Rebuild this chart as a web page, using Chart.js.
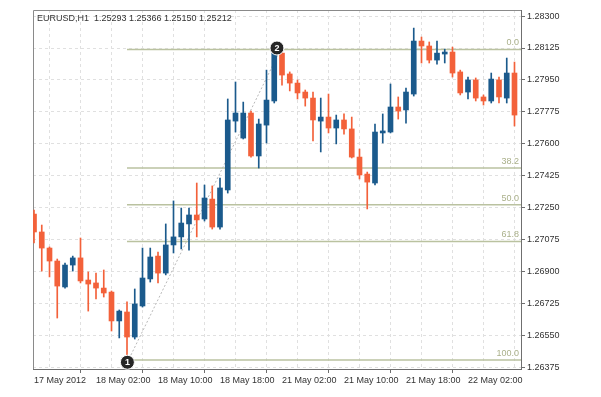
<!DOCTYPE html>
<html><head><meta charset="utf-8">
<script src="https://cdn.jsdelivr.net/npm/chart.js@4.4.0/dist/chart.umd.min.js"></script>
<style>html,body{margin:0;padding:0;background:#fff;}canvas{display:block;}</style>
</head><body>
<canvas id="c" width="601" height="397"></canvas>
<script>
const chartTitle = 'EURUSD,H1  1.25293 1.25366 1.25150 1.25212';

const opens = [1.27216,1.27118,1.27030,1.26959,1.26817,1.26937,1.26976,1.26855,1.26839,1.26811,
1.26789,1.26631,1.26680,1.26543,1.26713,1.26861,1.26986,1.26893,1.27047,1.27091,
1.27162,1.27211,1.27189,1.27298,1.27145,1.27348,1.27725,1.27632,1.27769,1.27534,
1.27703,1.27835,1.28097,1.27983,1.27933,1.27884,1.27851,1.27725,1.27747,1.27687,
1.27731,1.27682,1.27528,1.27435,1.27386,1.27660,1.27665,1.27802,1.27786,1.27873,
1.28163,1.28136,1.28059,1.28092,1.28103,1.27994,1.27884,1.27950,1.27857,1.27835,
1.27950,1.27851,1.27988];
const highs = [1.27238,1.27156,1.27036,1.26970,1.26948,1.26986,1.27085,1.26899,1.26893,1.26910,
1.26795,1.26691,1.26735,1.26806,1.27030,1.27030,1.27008,1.27162,1.27288,1.27249,
1.27249,1.27386,1.27375,1.27370,1.27413,1.27846,1.27939,1.27829,1.27780,1.27736,
1.28004,1.28117,1.28108,1.27994,1.27950,1.27895,1.27884,1.27851,1.27873,1.27758,
1.27764,1.27747,1.27572,1.27446,1.27709,1.27764,1.27928,1.27857,1.27906,1.28234,
1.28185,1.28158,1.28163,1.28119,1.28130,1.28004,1.27966,1.27961,1.27868,1.27988,
1.27966,1.28070,1.28048];
const lows = [1.27058,1.26904,1.26872,1.26647,1.26811,1.26904,1.26839,1.26685,1.26751,1.26762,
1.26576,1.26538,1.26417,1.26532,1.26707,1.26844,1.26839,1.26883,1.27003,1.27025,
1.27019,1.27091,1.27178,1.27134,1.27134,1.27331,1.27665,1.27627,1.27528,1.27468,
1.27605,1.27824,1.27922,1.27890,1.27846,1.27807,1.27616,1.27556,1.27660,1.27600,
1.27654,1.27523,1.27408,1.27244,1.27375,1.27605,1.27660,1.27736,1.27714,1.27862,
1.28043,1.28043,1.28037,1.28043,1.27966,1.27868,1.27846,1.27835,1.27813,1.27824,
1.27824,1.27824,1.27698];
const closes = [1.27118,1.27030,1.26959,1.26822,1.26937,1.26976,1.26850,1.26833,1.26811,1.26784,
1.26631,1.26685,1.26543,1.26724,1.26866,1.26981,1.26893,1.27047,1.27091,1.27167,
1.27211,1.27184,1.27304,1.27145,1.27359,1.27731,1.27769,1.27769,1.27534,1.27709,
1.27840,1.28097,1.27977,1.27933,1.27879,1.27851,1.27731,1.27747,1.27687,1.27731,
1.27682,1.27528,1.27430,1.27391,1.27665,1.27671,1.27802,1.27780,1.27884,1.28163,
1.28136,1.28059,1.28097,1.28103,1.27988,1.27879,1.27950,1.27851,1.27835,1.27955,
1.27857,1.27988,1.27758];

const xTickIndex = [0, 8, 16, 24, 32, 40, 48, 56];
const xTickLabels = ['17 May 2012','18 May 02:00','18 May 10:00','18 May 18:00','21 May 02:00','21 May 10:00','21 May 18:00','22 May 02:00'];
const xGridIndex = [0,4,8,12,16,20,24,28,32,36,40,44,48,52,56,60];
const yTicks = [1.26375,1.26550,1.26725,1.26900,1.27075,1.27250,1.27425,1.27600,1.27775,1.27950,1.28125,1.28300];

const fibLabels = ['0.0','38.2','50.0','61.8','100.0'];
const fibPrices = [1.28117,1.27468,1.27267,1.27066,1.26417];
const fibStartIndex = 12;
const pivotLabels = ['1','2'];
const pivotX = [12.05, 31.35];
const pivotY = [1.26405, 1.28125];
const trendX = [12.05, 31.9];
const trendY = [1.26405, 1.28125];

const X_MIN = -0.13, X_MAX = 62.84;
const BULL = '#1b5a8c', BEAR = '#f3613a';
const FONT = '"Liberation Sans", Arial, sans-serif';

const idx = opens.map((_, i) => i);
const colors = idx.map(i => closes[i] >= opens[i] ? BULL : BEAR);

const datasets = [
  {
    type: 'bar', label: 'bodies', order: 0,
    data: idx.map(i => ({x: i, y: [opens[i], closes[i]]})),
    backgroundColor: colors, borderWidth: 0, barThickness: 5, grouped: false
  },
  {
    type: 'bar', label: 'wicks', order: 1,
    data: idx.map(i => ({x: i, y: [lows[i], highs[i]]})),
    backgroundColor: colors, borderWidth: 0, barThickness: 1, grouped: false
  },
  {
    type: 'line', label: 'trend', order: 3,
    data: trendX.map((x, i) => ({x, y: trendY[i]})),
    borderColor: '#b8b8b8', borderWidth: 1, borderDash: [2, 2], pointRadius: 0, fill: false
  },
  ...fibPrices.map((p, k) => ({
    type: 'line', label: 'fib ' + fibLabels[k], order: 4,
    data: [{x: fibStartIndex, y: p}, {x: X_MAX, y: p}],
    borderColor: '#bac2a0', borderWidth: 1.6, pointRadius: 0, fill: false
  })),
  {
    type: 'line', label: 'pivots', order: -1, showLine: false, clip: false,
    data: pivotX.map((x, i) => ({x, y: pivotY[i]})),
    pointRadius: 7, pointBackgroundColor: '#262626', pointBorderColor: '#ffffff', pointBorderWidth: 1
  }
];

const decor = {
  id: 'decor',
  beforeDatasetsDraw(chart) {
    const {ctx, chartArea: a} = chart;
    ctx.save();
    ctx.strokeStyle = '#8a8a8a'; ctx.lineWidth = 1;
    ctx.beginPath();
    ctx.moveTo(a.left + 0.5, a.bottom); ctx.lineTo(a.left + 0.5, a.top + 0.5); ctx.lineTo(a.right, a.top + 0.5);
    ctx.stroke();
    ctx.restore();
  },
  afterDatasetsDraw(chart) {
    const {ctx, chartArea: a, scales: {x, y}} = chart;
    ctx.save();
    ctx.font = '9px ' + FONT;
    ctx.fillStyle = '#aab08a';
    ctx.textAlign = 'right'; ctx.textBaseline = 'bottom';
    fibPrices.forEach((p, k) => ctx.fillText(fibLabels[k], a.right - 2, y.getPixelForValue(p) - 2));
    ctx.fillStyle = '#ffffff';
    ctx.font = 'bold 9px ' + FONT;
    ctx.textAlign = 'center'; ctx.textBaseline = 'middle';
    pivotLabels.forEach((t, i) => ctx.fillText(t, x.getPixelForValue(pivotX[i]), y.getPixelForValue(pivotY[i]) + 0.5));
    ctx.fillStyle = '#333333';
    ctx.font = '9px ' + FONT;
    ctx.textAlign = 'left';
    ctx.fillText(chartTitle, a.left + 4, a.top + 8.5);
    ctx.restore();
  }
};

new Chart(document.getElementById('c'), {
  type: 'bar',
  data: {datasets},
  options: {
    responsive: false, animation: false, events: [],
    layout: {padding: {left: 33, top: 10, right: 0, bottom: 0}},
    plugins: {legend: {display: false}, tooltip: {enabled: false}},
    scales: {
      x: {
        type: 'linear', position: 'bottom', min: X_MIN, max: X_MAX, offset: false,
        afterBuildTicks: s => { s.ticks = xGridIndex.map(v => ({value: v})); },
        afterFit: s => { s.height = 28; },
        ticks: {
          autoSkip: false, maxRotation: 0, align: 'start', padding: 2,
          font: {family: FONT, size: 9}, color: '#333333',
          callback: v => { const k = xTickIndex.indexOf(v); return k >= 0 ? xTickLabels[k] : ''; }
        },
        grid: {
          color: '#e0e0e0', lineWidth: 1, tickLength: 4,
          tickColor: c => (c.tick && xTickIndex.includes(c.tick.value)) ? '#6f6f6f' : 'rgba(0,0,0,0)'
        },
        border: {color: '#6f6f6f', width: 1, dash: [3, 3]}
      },
      y: {
        type: 'linear', position: 'right', min: 1.26368, max: 1.28333,
        afterBuildTicks: s => { s.ticks = yTicks.map(v => ({value: v})); },
        afterFit: s => { s.width = 80; },
        ticks: {
          padding: 2, font: {family: FONT, size: 9}, color: '#333333',
          callback: v => Number(v).toFixed(5)
        },
        grid: {color: '#e0e0e0', lineWidth: 1, tickLength: 4, tickColor: '#6f6f6f'},
        border: {color: '#6f6f6f', width: 1, dash: [3, 3]}
      }
    }
  },
  plugins: [decor]
});
</script>
</body></html>
